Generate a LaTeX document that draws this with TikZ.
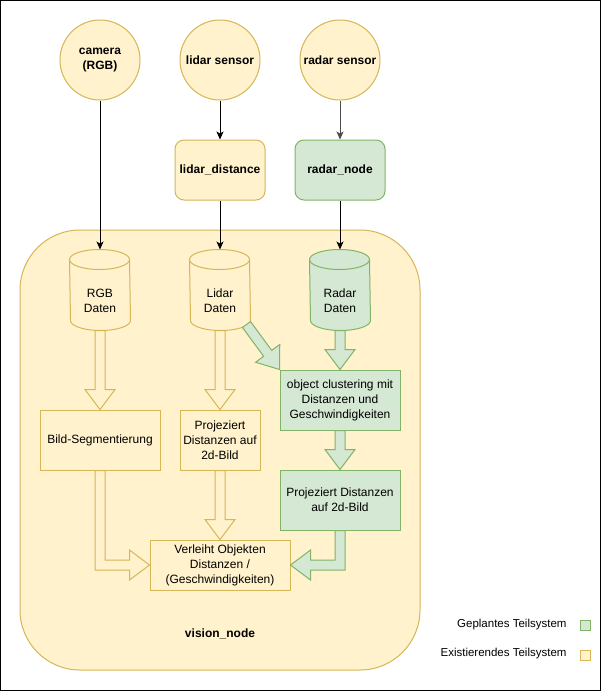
\documentclass[tikz,border=0pt]{standalone}
\usepackage{fontspec}
\setmainfont{Liberation Sans}
\usetikzlibrary{calc,arrows.meta}
\definecolor{yfill}{HTML}{FFF2CC}
\definecolor{ydraw}{HTML}{D6B656}
\definecolor{gfill}{HTML}{D5E8D4}
\definecolor{gdraw}{HTML}{82B366}
\newcommand\drawcyl[2]{%
  \draw[#2] ($(#1.north west)+(0,10)$) arc[start angle=180,end angle=0,x radius=30pt,y radius=10pt]
    -- ($(#1.south east)+(0,-10)$) arc[start angle=0,end angle=-180,x radius=30pt,y radius=10pt] -- cycle;
  \draw[#2,fill=none] ($(#1.north west)+(0,10)$) arc[start angle=180,end angle=360,x radius=30pt,y radius=10pt];}
\newcommand\blockarrow[3]{%
  \coordinate (ba-s) at (#2);
  \coordinate (ba-e) at (#3);
  \coordinate (ba-hb) at ($(ba-e)!20pt!(ba-s)$);
  \draw[#1] ($(ba-s)!5pt!90:(ba-e)$) -- ($(ba-hb)!5pt!90:(ba-e)$) -- ($(ba-hb)!15pt!90:(ba-e)$)
    -- (ba-e) -- ($(ba-hb)!15pt!-90:(ba-e)$) -- ($(ba-hb)!5pt!-90:(ba-e)$) -- ($(ba-s)!5pt!-90:(ba-e)$) -- cycle;}
\begin{document}
\begin{tikzpicture}[x=1pt,y=-1pt,line width=1pt,
  every node/.style={font=\fontsize{12}{15}\selectfont,align=center,inner sep=0pt},
  ybox/.style={draw=ydraw,fill=yfill},
  gbox/.style={draw=gdraw,fill=gfill},
  bold/.style={font=\fontsize{12}{15}\selectfont\bfseries},
  sensor/.style={ybox,circle,minimum size=80pt,bold},
  nodebox/.style={rounded corners=9pt,minimum width=90pt,minimum height=60pt,bold},
  cylbox/.style={minimum width=60pt,minimum height=80pt},
  conn/.style={line width=1pt,-{Stealth[length=8pt,width=7pt,inset=2pt]}},
  yarrow/.style={draw=ydraw,fill=yfill,line width=1pt,line join=miter},
  garrow/.style={draw=gdraw,fill=gfill,line width=1pt,line join=miter},
  legtext/.style={font=\fontsize{11.5}{14}\selectfont,anchor=east},
  legsq/.style={minimum size=10pt}]
\useasboundingbox (0,0) rectangle (601,691);
\fill[white] (0,0) rectangle (601,691);
\draw[black,line width=1pt] (0.5,0.5) rectangle (600.5,690.5);

% container
\node[ybox,rounded corners=60pt,minimum width=400pt,minimum height=440pt] (vision) at (220,450) {};
\node[bold] (visionlabel) at (220,634) {vision\_node};

% sensors
\node[sensor] (camera) at (100,60) {camera\\(RGB)};
\node[sensor] (lidarsensor) at (220,60) {lidar sensor};
\node[sensor] (radarsensor) at (340,60) {radar sensor};

% ROS nodes
\node[ybox,nodebox] (lidardist) at (220,170) {lidar\_distance};
\node[gbox,nodebox] (radarnode) at (340,170) {radar\_node};

% cylinders
\node[cylbox] (rgbdb) at (100,290) {};
\node[cylbox] (lidardb) at (220,290) {};
\node[cylbox] (radardb) at (340,290) {};
\drawcyl{rgbdb}{ybox}
\drawcyl{lidardb}{ybox}
\drawcyl{radardb}{gbox}
\node (rgbtext) at ($(rgbdb)+(0,11)$) {RGB\\Daten};
\node (lidartext) at ($(lidardb)+(0,11)$) {Lidar\\Daten};
\node (radartext) at ($(radardb)+(0,11)$) {Radar\\Daten};

% processing boxes
\node[ybox,minimum width=120pt,minimum height=60pt] (seg) at (100,440) {Bild-Segmentierung};
\node[ybox,minimum width=80pt,minimum height=60pt] (lproj) at (220,440) {Projeziert\\Distanzen auf\\2d-Bild};
\node[gbox,minimum width=120pt,minimum height=60pt] (cluster) at (340,400) {object clustering mit\\Distanzen und\\Geschwindigkeiten};
\node[gbox,minimum width=120pt,minimum height=60pt] (gproj) at (340,500) {Projeziert Distanzen\\auf 2d-Bild};
\node[ybox,minimum width=140pt,minimum height=50pt] (verl) at (220,565) {Verleiht Objekten\\Distanzen /\\(Geschwindigkeiten)};

% black connectors
\draw[conn] (camera) -- (rgbdb.north);
\draw[conn] (lidarsensor) -- (lidardist.north);
\draw[conn] (lidardist.south) -- (lidardb.north);
\draw[conn,black!70] (radarsensor) -- (radarnode.north);
\draw[conn] (radarnode.south) -- (radardb.north);

% block arrows
\blockarrow{yarrow}{rgbdb.south}{seg.north}
\blockarrow{yarrow}{lidardb.south}{lproj.north}
\blockarrow{yarrow}{lproj.south}{verl.north}
\blockarrow{garrow}{radardb.south}{cluster.north}
\blockarrow{garrow}{cluster.south}{gproj.north}
\coordinate (diagstart) at ($(lidardb.south east)+(-4,-6)$);
\blockarrow{garrow}{diagstart}{cluster.north west}
\draw[yarrow] ($(seg.south)+(-5,0)$) |- ($(verl.west)+(-20,5)$) -- ++(0,10) -- (verl.west)
  -- ++(-20,-15) -- ++(0,10) -| ($(seg.south)+(5,0)$) -- cycle;
\draw[garrow] ($(gproj.south)+(5,0)$) |- ($(verl.east)+(20,5)$) -- ++(0,10) -- (verl.east)
  -- ++(20,-15) -- ++(0,10) -| ($(gproj.south)+(-5,0)$) -- cycle;

% legend
\node[legtext] (leg1) at (567,625) {Geplantes Teilsystem};
\node[gbox,legsq] (leg1sq) at (585,625.5) {};
\node[legtext] (leg2) at (567,654) {Existierendes Teilsystem};
\node[ybox,legsq] (leg2sq) at (585,655) {};
\end{tikzpicture}
\end{document}
